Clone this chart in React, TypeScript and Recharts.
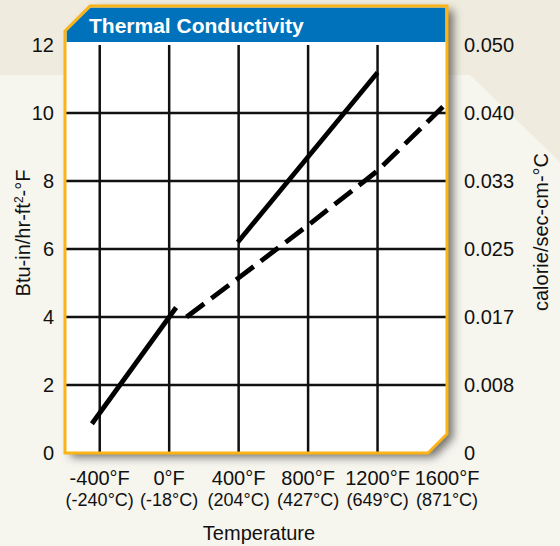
import { LineChart, Line, XAxis, YAxis, ReferenceLine, Label } from "recharts";

// temperatures in °F, conductivity in Btu-in/hr-ft²-°F
const lowTempLine = [
  { t: -445, v: 0.86 },
  { t: 40, v: 4.28 },
];
const highTempLine = [
  { t: 395, v: 6.2 },
  { t: 1200, v: 11.19 },
];
const dashedLine = [
  { t: 100, v: 4.0 },
  { t: 400, v: 5.15 },
  { t: 800, v: 6.7 },
  { t: 1200, v: 8.3 },
  { t: 1600, v: 10.3 },
];

const xTicks = [-400, 0, 400, 800, 1200, 1600];
const fahrenheitLabels = ["-400°F", "0°F", "400°F", "800°F", "1200°F", "1600°F"];
const celsiusLabels = ["(-240°C)", "(-18°C)", "(204°C)", "(427°C)", "(649°C)", "(871°C)"];
const yTicks = [0, 2, 4, 6, 8, 10, 12];
const rightTickLabels = ["0", "0.008", "0.017", "0.025", "0.033", "0.040", "0.050"];
const gridX = [-400, 0, 400, 800, 1200];
const gridY = [2, 4, 6, 8, 10];

const FONT = '"Liberation Sans", Arial, Helvetica, sans-serif';
const ORANGE = "#fbb417";
const BLUE = "#0072bc";

const XTick = ({ x, y, payload }: any) => {
  const i = xTicks.indexOf(payload.value);
  return (
    <text x={x} textAnchor="middle" fill="#111" fontFamily={FONT}>
      <tspan x={x} y={y + 32} fontSize={20}>
        {fahrenheitLabels[i]}
      </tspan>
      <tspan x={x} y={y + 53} fontSize={18}>
        {celsiusLabels[i]}
      </tspan>
    </text>
  );
};

const LeftTick = ({ x, y, payload }: any) => (
  <text x={x} y={y} dy="0.355em" textAnchor="end" fontSize={20} fill="#111" fontFamily={FONT}>
    {payload.value}
  </text>
);

const RightTick = ({ x, y, payload }: any) => (
  <text x={x} y={y} dy="0.355em" textAnchor="start" fontSize={20} fill="#111" fontFamily={FONT}>
    {rightTickLabels[yTicks.indexOf(Number(payload.value))]}
  </text>
);

export default function App() {
  return (
    <div
      style={{
        position: "absolute",
        left: 0,
        top: 0,
        width: 560,
        height: 546,
        fontFamily: FONT,
      }}
    >
      <svg width={560} height={546} style={{ position: "absolute", left: 0, top: 0 }}>
        <defs>
          <filter id="shadow" x="-10%" y="-10%" width="130%" height="130%">
            <feDropShadow dx={6} dy={4} stdDeviation={5} floodColor="#000" floodOpacity={0.55} />
          </filter>
        </defs>
        <rect x={0} y={0} width={560} height={546} fill="#f6f5ee" />
        <polygon points="0,0 560,0 560,162 470,75 0,75" fill="#efecdf" />
        <polygon
          points="65,31 90,6 447,6 447,434 428,453 65,453"
          fill="#fff"
          filter="url(#shadow)"
        />
      </svg>

      <div style={{ position: "absolute", left: 0, top: 0 }}>
        <LineChart width={560} height={546} margin={{ top: 45, right: 0, bottom: 0, left: 0 }}>
          <XAxis
            dataKey="t"
            type="number"
            domain={[-600, 1600]}
            ticks={xTicks}
            allowDataOverflow
            height={93}
            axisLine={false}
            tickLine={false}
            tickSize={0}
            tickMargin={0}
            tick={<XTick />}
            interval={0}
          >
            <Label
              content={({ viewBox }: any) => (
                <text
                  x={viewBox.x + viewBox.width / 2 + 3}
                  y={540}
                  textAnchor="middle"
                  fontSize={20}
                  fill="#111"
                  fontFamily={FONT}
                >
                  Temperature
                </text>
              )}
            />
          </XAxis>
          <YAxis
            yAxisId="left"
            type="number"
            domain={[0, 12]}
            ticks={yTicks}
            width={65}
            axisLine={false}
            tickLine={false}
            tickSize={0}
            tickMargin={11}
            tick={<LeftTick />}
            interval={0}
          >
            <Label
              content={({ viewBox }: any) => {
                const cx = 23;
                const cy = viewBox.y + viewBox.height / 2 - 16;
                return (
                  <text
                    x={cx}
                    y={cy}
                    dy="0.355em"
                    transform={`rotate(-90 ${cx} ${cy})`}
                    textAnchor="middle"
                    fontSize={20}
                    fill="#111"
                    fontFamily={FONT}
                  >
                    Btu-in/hr-ft
                    <tspan baselineShift="super" fontSize={12}>
                      2
                    </tspan>
                    -°F
                  </text>
                );
              }}
            />
          </YAxis>
          <YAxis
            yAxisId="right"
            orientation="right"
            type="number"
            domain={[0, 12]}
            ticks={yTicks}
            width={113}
            axisLine={false}
            tickLine={false}
            tickSize={0}
            tickMargin={17}
            tick={<RightTick />}
            interval={0}
          >
            <Label
              content={({ viewBox }: any) => {
                const cx = 541;
                const cy = viewBox.y + viewBox.height / 2 - 17;
                return (
                  <text
                    x={cx}
                    y={cy}
                    dy="0.355em"
                    transform={`rotate(-90 ${cx} ${cy})`}
                    textAnchor="middle"
                    fontSize={20}
                    fill="#111"
                    fontFamily={FONT}
                  >
                    calorie/sec-cm-°C
                  </text>
                );
              }}
            />
          </YAxis>

          {gridX.map((t) => (
            <ReferenceLine key={`gx${t}`} yAxisId="left" x={t} stroke="#111" strokeWidth={2.5} />
          ))}
          {gridY.map((v) => (
            <ReferenceLine key={`gy${v}`} yAxisId="left" y={v} stroke="#111" strokeWidth={2.5} />
          ))}

          <Line
            yAxisId="left"
            data={lowTempLine}
            dataKey="v"
            type="linear"
            stroke="#000"
            strokeWidth={4.8}
            dot={false}
            activeDot={false}
            isAnimationActive={false}
          />
          <Line
            yAxisId="right"
            data={highTempLine}
            dataKey="v"
            type="linear"
            stroke="#000"
            strokeWidth={4.8}
            dot={false}
            activeDot={false}
            isAnimationActive={false}
          />
          <Line
            yAxisId="left"
            data={dashedLine}
            dataKey="v"
            type="linear"
            stroke="#000"
            strokeWidth={4.8}
            strokeDasharray="22 9"
            dot={false}
            activeDot={false}
            isAnimationActive={false}
          />
        </LineChart>
      </div>

      <svg
        width={560}
        height={546}
        style={{ position: "absolute", left: 0, top: 0, pointerEvents: "none" }}
      >
        <polygon points="66.5,31 90.5,7.5 445.5,7.5 445.5,42 66.5,42" fill={BLUE} />
        <polygon
          points="65,31 90,6 447,6 447,434 428,453 65,453"
          fill="none"
          stroke={ORANGE}
          strokeWidth={3}
        />
        <text x={89} y={33} fontSize={21} fontWeight="bold" fill="#fff" fontFamily={FONT}>
          Thermal Conductivity
        </text>
      </svg>
    </div>
  );
}
